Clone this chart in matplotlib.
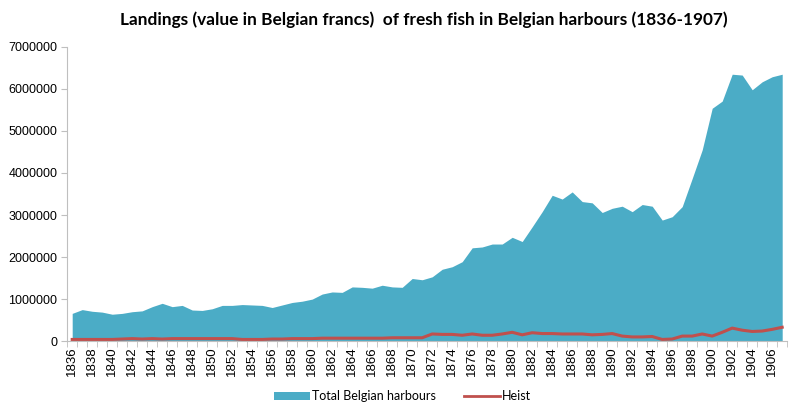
import numpy as np
import matplotlib
matplotlib.use("Agg")
import matplotlib.pyplot as plt
from matplotlib.patches import Patch
from matplotlib.lines import Line2D

years = list(range(1836, 1908))

# values, in millions of francs
total_m = [0.66, 0.75, 0.71, 0.69, 0.64, 0.66, 0.70, 0.72, 0.82, 0.90,
           0.82, 0.85, 0.74, 0.73, 0.77, 0.85, 0.85, 0.87, 0.86, 0.85,
           0.80, 0.86, 0.92, 0.95, 1.00, 1.12, 1.17, 1.16, 1.29, 1.28,
           1.26, 1.33, 1.29, 1.28, 1.49, 1.46, 1.53, 1.71, 1.77, 1.89,
           2.22, 2.24, 2.31, 2.31, 2.47, 2.37, 2.72, 3.08, 3.47, 3.38,
           3.55, 3.32, 3.29, 3.06, 3.16, 3.21, 3.08, 3.25, 3.21, 2.88,
           2.96, 3.20, 3.87, 4.55, 5.54, 5.71, 6.35, 6.33, 5.98, 6.17,
           6.29, 6.35]
heist_m = [0.04, 0.04, 0.04, 0.04, 0.04, 0.05, 0.06, 0.05, 0.06, 0.05,
           0.06, 0.06, 0.06, 0.06, 0.06, 0.06, 0.06, 0.04, 0.04, 0.04,
           0.05, 0.05, 0.06, 0.06, 0.06, 0.07, 0.07, 0.07, 0.07, 0.07,
           0.07, 0.07, 0.08, 0.08, 0.08, 0.08, 0.17, 0.16, 0.16, 0.14,
           0.17, 0.14, 0.14, 0.17, 0.21, 0.15, 0.20, 0.18, 0.18, 0.17,
           0.17, 0.17, 0.15, 0.16, 0.18, 0.12, 0.10, 0.10, 0.11, 0.04,
           0.05, 0.12, 0.12, 0.17, 0.12, 0.21, 0.31, 0.26, 0.23, 0.24,
           0.28, 0.33]

total = np.array(total_m) * 1e6
heist = np.array(heist_m) * 1e6

area_col = "#4BACC6"
line_col = "#C0504D"

fig = plt.figure(figsize=(8, 4.15), dpi=100)
ax = fig.add_axes([0.084, 0.178, 0.9, 0.709])

ax.fill_between(years, 0, total, color=area_col, linewidth=0)
ax.plot(years, heist, color=line_col, linewidth=2.2)

ax.set_xlim(1835.5, 1907.5)
ax.set_ylim(0, 7000000)
ax.set_yticks(range(0, 7000001, 1000000))
ax.set_yticklabels([str(v) for v in range(0, 7000001, 1000000)],
                   fontsize=9, family="Liberation Sans")
ax.set_xticks(years[::2])
ax.set_xticklabels([str(y) for y in years[::2]], rotation=90,
                   fontsize=9.5, family="Liberation Sans")
ax.set_xticks(np.arange(1835.5, 1908, 1), minor=True)
ax.tick_params(axis="x", which="major", length=0, pad=4)
ax.tick_params(axis="x", which="minor", length=4, color="#bfbfbf")
ax.tick_params(axis="y", length=4, color="#bfbfbf", pad=3)

for s in ["top", "right"]:
    ax.spines[s].set_visible(False)
ax.spines["left"].set_color("#bfbfbf")
ax.spines["bottom"].set_color("#bfbfbf")

fig.text(0.53, 0.952, "Landings (value in Belgian francs)  of fresh fish in Belgian harbours (1836-1907)",
         ha="center", va="center", fontsize=12.4, fontweight="bold", family="Lato")

handles = [Patch(facecolor=area_col, edgecolor="none", label="Total Belgian harbours"),
           Line2D([0], [0], color=line_col, linewidth=2, label="Heist")]
fig.legend(handles=handles, loc="center", bbox_to_anchor=(0.503, 0.045), ncol=2,
           frameon=False, handlelength=2.9, handleheight=0.7,
           columnspacing=2.3, handletextpad=0.1, prop={"family": "Lato", "size": 9})

fig.savefig("out.png", dpi=100)
